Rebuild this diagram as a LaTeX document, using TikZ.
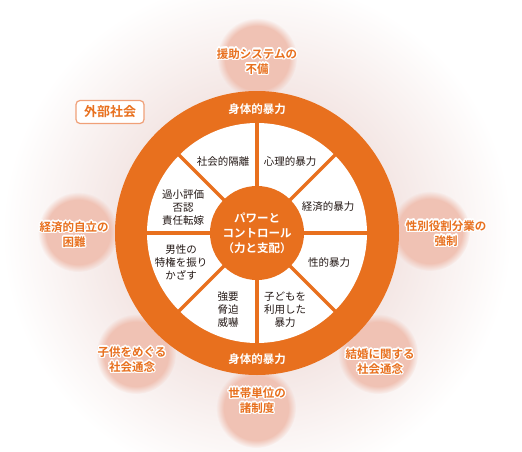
\documentclass[tikz,border=0pt]{standalone}
\usepackage{fontspec}
\setmainfont{Noto Sans CJK JP}[BoldFont={Noto Sans CJK JP Bold}]
\usepackage{contour}
\contourlength{1.3pt}
\usetikzlibrary{fadings}
\definecolor{wheelorange}{RGB}{232,112,30}
\definecolor{blobpink}{RGB}{240,194,180}
\definecolor{halopink}{RGB}{244,231,229}
\definecolor{boxedge}{RGB}{240,160,120}
\definecolor{segtext}{RGB}{35,24,21}
\newcommand{\outl}[1]{\contour{white}{#1}}
\pgfdeclareradialshading{halo}{\pgfpoint{0bp}{0bp}}{color(0bp)=(halopink); color(14bp)=(halopink); color(25bp)=(white); color(50bp)=(white)}

\begin{document}
\begin{tikzpicture}[x=1pt, y=-1pt,
  wheeltxt/.style={text=segtext, align=center, font=\fontsize{10.5}{13}\selectfont},
  ringtxt/.style={text=white, font=\fontsize{11.5}{14}\selectfont\bfseries},
  hubtxt/.style={text=white, align=center, font=\fontsize{11.5}{15}\selectfont\bfseries},
  societxt/.style={text=wheelorange, align=center, font=\fontsize{11.5}{15}\selectfont\bfseries},
  blob/.style={fill=blobpink, path fading=circle with fuzzy edge 20 percent},
  spoke/.style={draw=wheelorange, line width=3.5pt},
  outerbox/.style={draw=boxedge, line width=1.2pt, rounded corners=4pt, fill=white,
                   text=wheelorange, font=\fontsize{13}{15}\selectfont\bfseries,
                   minimum width=68pt, minimum height=23pt, inner sep=2pt}]
\useasboundingbox (0,0) rectangle (522,452);

% ---------- outer society halo ----------
\coordinate (hub) at (257,233);
\shade[shading=halo] (hub) circle (255pt);
\foreach \bx/\by in {257/58, 78/232, 430/231, 136/354, 378/354, 256/408}
  \fill[blob] (\bx,\by) circle (40pt);

% ---------- wheel ----------
\fill[wheelorange] (hub) circle (142pt);
\fill[white] (hub) circle (110pt);
\foreach \a in {0,45,...,315}
  \draw[spoke] (hub) -- ++(\a:111pt);
\fill[wheelorange] (hub) circle (47pt);

\node[hubtxt] (power) at (hub) {パワーと\\コントロール\\（力と支配）};
\node[ringtxt] (bodytop) at (257,109) {身体的暴力};
\node[ringtxt] (bodybot) at (257,359) {身体的暴力};

\node[wheeltxt] (isolate) at (223,162) {社会的隔離};
\node[wheeltxt] (psych)   at (290,162) {心理的暴力};
\node[wheeltxt] (econ)    at (328,207) {経済的暴力};
\node[wheeltxt] (sexual)  at (329,263) {性的暴力};
\node[wheeltxt] (child)   at (285,310) {子どもを\\利用した\\暴力};
\node[wheeltxt] (threat)  at (228,310) {強要\\脅迫\\威嚇};
\node[wheeltxt] (male)    at (181,262) {男性の\\特権を振り\\かざす};
\node[wheeltxt] (deny)    at (183,208) {過小評価\\否認\\責任転嫁};

% ---------- outside factors ----------
\node[outerbox] (society) at (110,112) {外部社会};
\node[societxt] (support) at (257,62)  {\outl{援助システムの}\\\outl{不備}};
\node[societxt] (selfsup) at (74,235)  {\outl{経済的自立の}\\\outl{困難}};
\node[societxt] (gender)  at (446,234) {\outl{性別役割分業の}\\\outl{強制}};
\node[societxt] (kids)    at (132,360) {\outl{子供をめぐる}\\\outl{社会通念}};
\node[societxt] (marry)   at (380,362) {\outl{結婚に関する}\\\outl{社会通念}};
\node[societxt] (house)   at (257,401) {\outl{世帯単位の}\\\outl{諸制度}};
\end{tikzpicture}
\end{document}
